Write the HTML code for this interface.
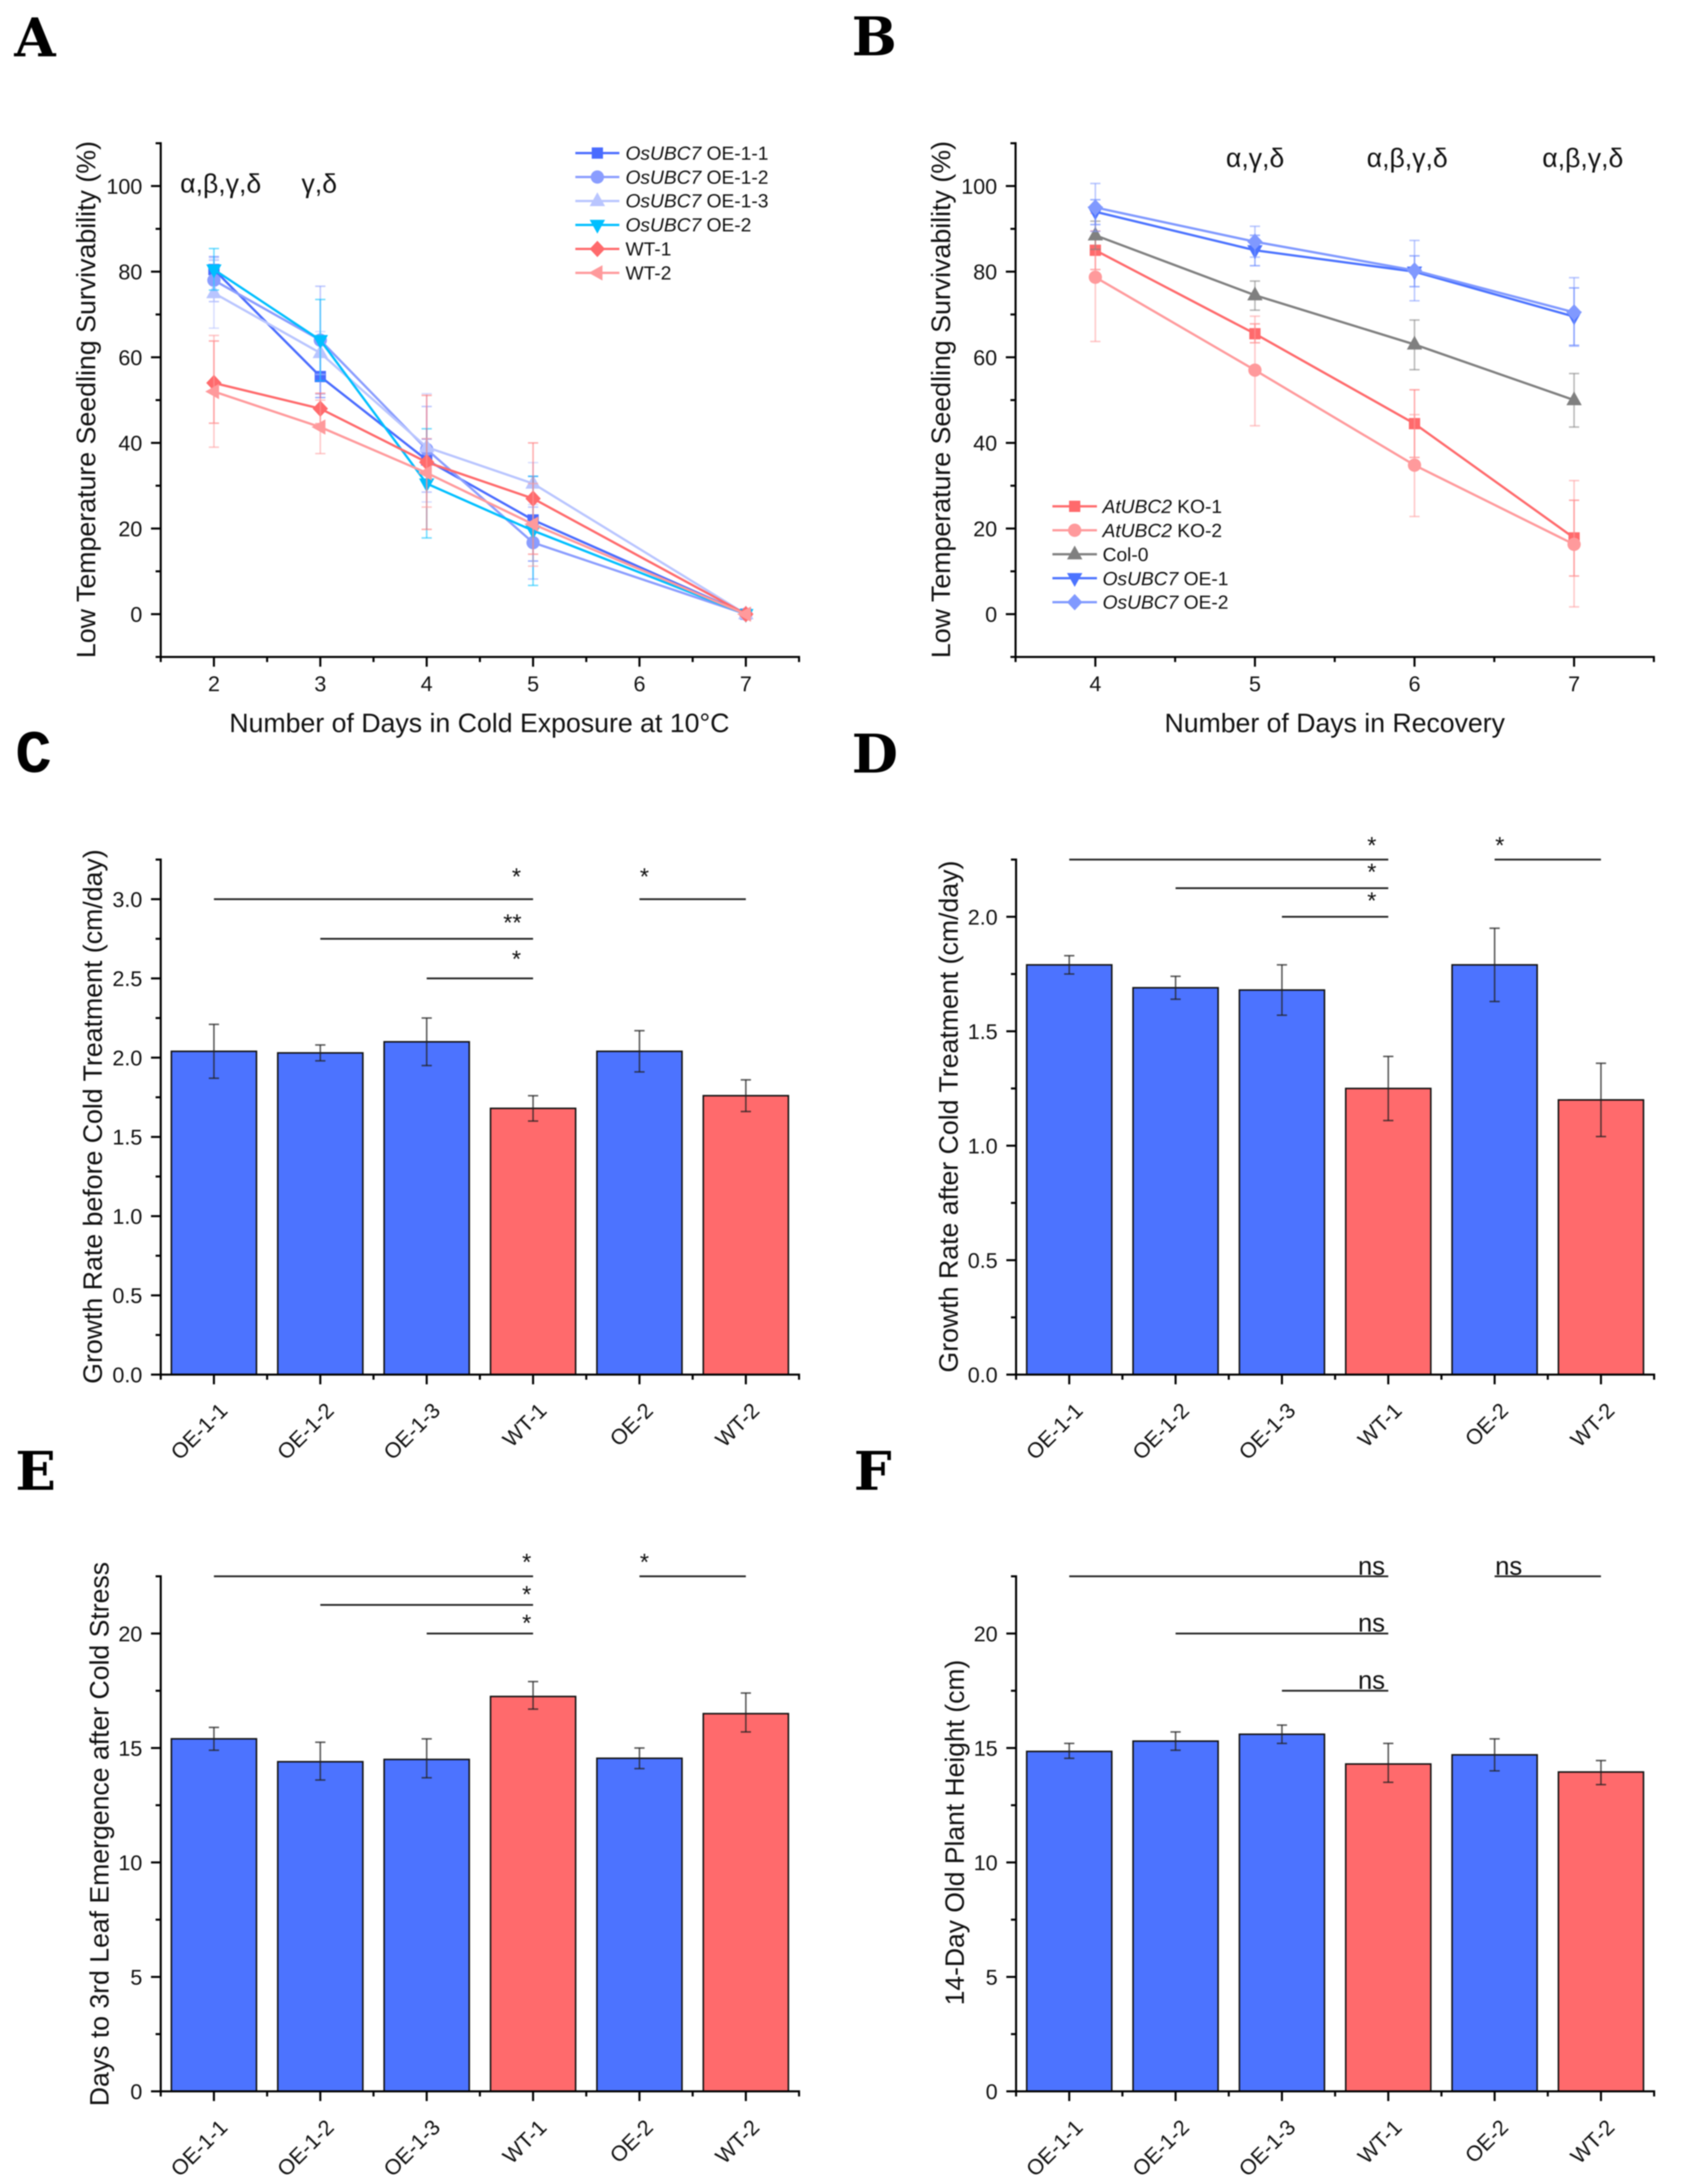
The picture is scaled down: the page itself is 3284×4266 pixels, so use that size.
<!DOCTYPE html>
<html lang="en">
<head>
<meta charset="utf-8">
<title>Low temperature survivability and growth panels</title>
<style>
html,body{margin:0;padding:0;background:#fff;}
svg{display:block;filter:blur(1px);}
text{font-family:"Liberation Sans",sans-serif;fill:#111;}
.letter{font-family:"DejaVu Serif",serif;font-weight:bold;font-size:104px;fill:#000;}
.title{font-size:52px;}
.legend{font-size:37.5px;}
.greek{font-size:52px;}
.star{font-size:46px;text-anchor:middle;}
.ns{font-size:50px;}
</style>
</head>
<body>
<svg id="figure" xmlns="http://www.w3.org/2000/svg" width="3284" height="4266" viewBox="0 0 3284 4266">
  <rect x="0" y="0" width="3284" height="4266" fill="#fff"/>

  <text class="letter" x="28" y="110">A</text>
  <text class="letter" x="1664" y="108">B</text>
  <text class="letter" x="30" y="1508" style="font-family:'Liberation Mono',monospace;font-size:118px;">C</text>
  <text class="letter" x="1664" y="1509">D</text>
  <text class="letter" x="30" y="2910">E</text>
  <text class="letter" x="1668" y="2910">F</text>

  <text class="title" transform="translate(186,1285.5) rotate(-90)" textLength="1010" lengthAdjust="spacingAndGlyphs">Low Temperature Seedling Survivability (%)</text>
  <text class="title" transform="translate(1856,1285.5) rotate(-90)" textLength="1010" lengthAdjust="spacingAndGlyphs">Low Temperature Seedling Survivability (%)</text>
  <text class="title" transform="translate(199,2703) rotate(-90)" textLength="1044" lengthAdjust="spacingAndGlyphs">Growth Rate before Cold Treatment (cm/day)</text>
  <text class="title" transform="translate(1871,2681) rotate(-90)" textLength="1000" lengthAdjust="spacingAndGlyphs">Growth Rate after Cold Treatment (cm/day)</text>
  <text class="title" transform="translate(212,4114) rotate(-90)" textLength="1063" lengthAdjust="spacingAndGlyphs">Days to 3rd Leaf Emergence after Cold Stress</text>
  <text class="title" transform="translate(1883,3917) rotate(-90)" textLength="675" lengthAdjust="spacingAndGlyphs">14-Day Old Plant Height (cm)</text>

  <text class="title" x="448" y="1430" textLength="977" lengthAdjust="spacingAndGlyphs">Number of Days in Cold Exposure at 10°C</text>
  <text class="title" x="2275" y="1430" textLength="665" lengthAdjust="spacingAndGlyphs">Number of Days in Recovery</text>

  <text class="greek" x="352" y="376">α,β,γ,δ</text>
  <text class="greek" x="589" y="376">γ,δ</text>
  <text class="greek" x="2395" y="326">α,γ,δ</text>
  <text class="greek" x="2670" y="326">α,β,γ,δ</text>
  <text class="greek" x="3013" y="326">α,β,γ,δ</text>

  <g>
    <text class="legend" x="1222" y="312"><tspan font-style="italic">OsUBC7</tspan> OE-1-1</text>
    <text class="legend" x="1222" y="359"><tspan font-style="italic">OsUBC7</tspan> OE-1-2</text>
    <text class="legend" x="1222" y="405"><tspan font-style="italic">OsUBC7</tspan> OE-1-3</text>
    <text class="legend" x="1222" y="452"><tspan font-style="italic">OsUBC7</tspan> OE-2</text>
    <text class="legend" x="1222" y="499">WT-1</text>
    <text class="legend" x="1222" y="546">WT-2</text>
  </g>
  <g>
    <text class="legend" x="2154" y="1002"><tspan font-style="italic">AtUBC2</tspan> KO-1</text>
    <text class="legend" x="2154" y="1049"><tspan font-style="italic">AtUBC2</tspan> KO-2</text>
    <text class="legend" x="2154" y="1096">Col-0</text>
    <text class="legend" x="2154" y="1143"><tspan font-style="italic">OsUBC7</tspan> OE-1</text>
    <text class="legend" x="2154" y="1189"><tspan font-style="italic">OsUBC7</tspan> OE-2</text>
  </g>

  <g>
    <text class="star" x="1009" y="1728">*</text>
    <text class="star" x="1001" y="1818">**</text>
    <text class="star" x="1009" y="1889">*</text>
    <text class="star" x="1259" y="1728">*</text>
  </g>
  <g>
    <text class="star" x="2680" y="1667">*</text>
    <text class="star" x="2680" y="1719">*</text>
    <text class="star" x="2680" y="1775">*</text>
    <text class="star" x="2930" y="1667">*</text>
  </g>
  <g>
    <text class="star" x="1029" y="3067">*</text>
    <text class="star" x="1029" y="3130">*</text>
    <text class="star" x="1029" y="3186">*</text>
    <text class="star" x="1259" y="3067">*</text>
  </g>
  <g>
    <text class="ns" x="2653" y="3076">ns</text>
    <text class="ns" x="2653" y="3187">ns</text>
    <text class="ns" x="2653" y="3299">ns</text>
    <text class="ns" x="2921" y="3076">ns</text>
  </g>
</svg>

<script>
/* ---------- Panel A data ---------- */
const daysA = [2, 3, 4, 5, 7];
const aTicksX = [2, 3, 4, 5, 6, 7];
const aMinorX = [1.5, 2.5, 3.5, 4.5, 5.5, 6.5, 7.5];
const lineTicksY = [0, 20, 40, 60, 80, 100];
const lineMinorY = [-10, 10, 30, 50, 70, 90, 110];

const aOE11Values = [80.5, 55.5, 36, 22, 0];
const aOE11Upper = [83.5, 60.5, 40.9, 32.2, 0];
const aOE11Lower = [77.5, 50.6, 31, 12.4, 0];
const aOE12Values = [78, 64, 38.5, 16.7, 0];
const aOE12Upper = [82.7, 76.6, 48.5, 25, 0];
const aOE12Lower = [73, 51.4, 28.5, 8.2, 0];
const aOE13Values = [75, 61, 39, 30.5, 0];
const aOE13Upper = [83.2, 66, 51.5, 35.4, 0];
const aOE13Lower = [66.8, 56, 26.2, 25.6, 0];
const aOE2Values = [80.5, 64, 30.5, 19.5, 0];
const aOE2Upper = [85.4, 73.5, 43.3, 32.2, 0];
const aOE2Lower = [75.7, 54.5, 17.8, 6.7, 0];
const aWT1Values = [54, 48, 35.5, 27, 0];
const aWT1Upper = [63.8, 51.6, 51.1, 40, 0];
const aWT1Lower = [44.6, 44.5, 19.8, 14, 0];
const aWT2Values = [52, 43.7, 33, 21, 0];
const aWT2Upper = [65.1, 50, 41, 30.5, 0];
const aWT2Lower = [39, 37.5, 25, 11.2, 0];

/* ---------- Panel B data ---------- */
const daysB = [4, 5, 6, 7];
const bTicksX = [4, 5, 6, 7];
const bMinorX = [3.5, 4.5, 5.5, 6.5, 7.5];

const bKO1Values = [85, 65.5, 44.5, 17.8];
const bKO1Upper = [89.5, 67.8, 52.4, 26.6];
const bKO1Lower = [80.5, 63.4, 36.6, 8.9];
const bKO2Values = [78.7, 57, 34.8, 16.3];
const bKO2Upper = [93.6, 69.6, 46.6, 31.2];
const bKO2Lower = [63.7, 44, 22.8, 1.7];
const bColValues = [88.5, 74.5, 63, 50];
const bColUpper = [91.8, 77.8, 68.7, 56.2];
const bColLower = [85.2, 71, 57.1, 43.7];
const bOE1Values = [94, 85, 80, 69.5];
const bOE1Upper = [96.8, 88.5, 83.7, 76.2];
const bOE1Lower = [91, 81.4, 76.5, 62.8];
const bOE2Values = [95, 87, 80.3, 70.5];
const bOE2Upper = [100.6, 90.6, 87.3, 78.6];
const bOE2Lower = [89.4, 83.4, 73.2, 62.6];

/* ---------- Bar panel data ---------- */
const barCategories = ["OE-1-1", "OE-1-2", "OE-1-3", "WT-1", "OE-2", "WT-2"];

const cValues = [2.04, 2.03, 2.10, 1.68, 2.04, 1.76];
const cUpper = [2.21, 2.08, 2.25, 1.76, 2.17, 1.86];
const cLower = [1.87, 1.98, 1.95, 1.60, 1.91, 1.66];
const cTicksY = [0, 0.5, 1, 1.5, 2, 2.5, 3];
const cMinorY = [0.25, 0.75, 1.25, 1.75, 2.25, 2.75, 3.25];
const cSigFrom = [0, 1, 2, 4];
const cSigTo = [3, 3, 3, 5];
const cSigLevel = [3.0, 2.75, 2.5, 3.0];

const dValues = [1.79, 1.69, 1.68, 1.25, 1.79, 1.20];
const dUpper = [1.83, 1.74, 1.79, 1.39, 1.95, 1.36];
const dLower = [1.75, 1.64, 1.57, 1.11, 1.63, 1.04];
const dTicksY = [0, 0.5, 1, 1.5, 2];
const dMinorY = [0.25, 0.75, 1.25, 1.75, 2.25];
const dSigFrom = [0, 1, 2, 4];
const dSigTo = [3, 3, 3, 5];
const dSigLevel = [2.25, 2.125, 2.0, 2.25];

const eValues = [15.4, 14.4, 14.5, 17.25, 14.55, 16.5];
const eUpper = [15.9, 15.25, 15.4, 17.9, 15.0, 17.4];
const eLower = [14.9, 13.6, 13.7, 16.7, 14.1, 15.7];
const eTicksY = [0, 5, 10, 15, 20];
const eMinorY = [2.5, 7.5, 12.5, 17.5, 22.5];
const eSigFrom = [0, 1, 2, 4];
const eSigTo = [3, 3, 3, 5];
const eSigLevel = [22.5, 21.25, 20, 22.5];

const fValues = [14.85, 15.3, 15.6, 14.3, 14.7, 13.95];
const fUpper = [15.2, 15.7, 16.0, 15.2, 15.4, 14.45];
const fLower = [14.55, 14.9, 15.2, 13.5, 14.0, 13.4];
const fTicksY = [0, 5, 10, 15, 20];
const fMinorY = [2.5, 7.5, 12.5, 17.5, 22.5];
const fSigFrom = [0, 1, 2, 4];
const fSigTo = [3, 3, 3, 5];
const fSigLevel = [22.5, 20, 17.5, 22.5];

/* ---------- Drawing helpers ---------- */
const SVGNS = "http://www.w3.org/2000/svg";
const root = document.getElementById("figure");

function make(tag, attrs, parent) {
  const el = document.createElementNS(SVGNS, tag);
  for (const k in attrs) el.setAttribute(k, attrs[k]);
  parent.appendChild(el);
  return el;
}
function linear(d0, d1, r0, r1) {
  return function (v) { return r0 + (v - d0) * (r1 - r0) / (d1 - d0); };
}
function drawLineSeg(parent, x1, y1, x2, y2, color, width, opacity) {
  return make("line", { x1: x1, y1: y1, x2: x2, y2: y2, stroke: color, "stroke-width": width, "stroke-opacity": opacity }, parent);
}
function drawMarker(parent, shape, cx, cy, color) {
  let el;
  if (shape === "square") {
    el = make("rect", { x: cx - 11, y: cy - 11, width: 22, height: 22, fill: color }, parent);
  } else if (shape === "circle") {
    el = make("circle", { cx: cx, cy: cy, r: 13, fill: color }, parent);
  } else {
    let pts;
    if (shape === "up") pts = [[cx, cy - 17], [cx + 15, cy + 10], [cx - 15, cy + 10]];
    if (shape === "down") pts = [[cx - 15, cy - 10], [cx + 15, cy - 10], [cx, cy + 17]];
    if (shape === "left") pts = [[cx - 17, cy], [cx + 10, cy - 15], [cx + 10, cy + 15]];
    if (shape === "diamond") pts = [[cx, cy - 16], [cx + 15, cy], [cx, cy + 16], [cx - 15, cy]];
    el = make("polygon", { points: pts.map(function (p) { return p.join(","); }).join(" "), fill: color }, parent);
  }
  
  
  return el;
}
function drawErrorBar(parent, x, yTopPx, yLowPx, color, width, opacity, capHalf) {
  const g = make("g", {}, parent);
  
  
  drawLineSeg(g, x, yTopPx, x, yLowPx, color, width, opacity);
  drawLineSeg(g, x - capHalf, yTopPx, x + capHalf, yTopPx, color, width, opacity);
  drawLineSeg(g, x - capHalf, yLowPx, x + capHalf, yLowPx, color, width, opacity);
}
function drawAxes(panel, xs, ys, majorX, minorX, majorY, minorY, yFmt, xLabels) {
  const g = make("g", {}, root);
  
  

  const yAxis = drawLineSeg(g, panel.left, panel.top - 2, panel.left, panel.bottom + 2, "#000", 4, 1);
  
  
  const xAxis = drawLineSeg(g, panel.left - 2, panel.bottom, panel.right + 2, panel.bottom, "#000", 4, 1);
  
  

  majorY.forEach(function (v) {
    const t = drawLineSeg(g, panel.left - 19, ys(v), panel.left, ys(v), "#000", 4, 1);
    
    
    const label = make("text", { x: panel.left - 36, y: ys(v) + 15, "text-anchor": "end", "font-size": 42 }, g);
    label.textContent = yFmt(v);
    
    
  });
  minorY.forEach(function (v) {
    const t = drawLineSeg(g, panel.left - 10, ys(v), panel.left, ys(v), "#000", 4, 1);
    
    
  });
  majorX.forEach(function (v, i) {
    const t = drawLineSeg(g, xs(v), panel.bottom, xs(v), panel.bottom + 19, "#000", 4, 1);
    
    
    let label;
    if (xLabels) {
      const ax = xs(v) + 29;
      const ay = panel.bottom + 73;
      label = make("text", { x: ax, y: ay, "text-anchor": "end", "font-size": 42, transform: "rotate(-45 " + ax + " " + ay + ")" }, g);
      label.textContent = xLabels[i];
    } else {
      label = make("text", { x: xs(v), y: panel.bottom + 67, "text-anchor": "middle", "font-size": 42 }, g);
      label.textContent = String(v);
    }
    
    
  });
  minorX.forEach(function (v) {
    const t = drawLineSeg(g, xs(v), panel.bottom, xs(v), panel.bottom + 10, "#000", 4, 1);
    
    
  });
}
function drawLinePanel(panel, days, series, majorX, minorX) {
  const xs = linear(panel.xMin, panel.xMax, panel.left, panel.right);
  const ys = linear(panel.yMin, panel.yMax, panel.bottom, panel.top);
  drawAxes(panel, xs, ys, majorX, minorX, lineTicksY, lineMinorY, function (v) { return String(v); }, null);

  series.forEach(function (s) {
    const g = make("g", {}, root);
    
    
    const pts = days.map(function (d, i) { return xs(d) + "," + ys(s.values[i]); }).join(" ");
    const line = make("polyline", { points: pts, fill: "none", stroke: s.color, "stroke-width": 4.5 }, g);
    
    
    days.forEach(function (d, i) {
      drawMarker(g, s.shape, xs(d), ys(s.values[i]), s.color);
    });
    days.forEach(function (d, i) {
      if (s.upper[i] !== s.lower[i]) {
        drawErrorBar(g, xs(d), ys(s.upper[i]), ys(s.lower[i]), s.color, 3, 0.55, 10);
      }
    });
  });

  series.forEach(function (s, i) {
    const ly = panel.legendTop + i * panel.legendGap;
    const g = make("g", {}, root);
    
    
    drawLineSeg(g, panel.legendX1, ly, panel.legendX2, ly, s.color, 4.5, 1);
    drawMarker(g, s.shape, (panel.legendX1 + panel.legendX2) / 2, ly, s.color);
  });
}
function drawBarPanel(panel, values, upper, lower, majorY, minorY, yFmt, sigFrom, sigTo, sigLevel) {
  const xs = linear(0.5, barCategories.length + 0.5, panel.left, panel.right);
  const ys = linear(0, panel.yMax, panel.bottom, panel.top);
  const bandwidth = (panel.right - panel.left) / barCategories.length;
  const barWidth = bandwidth * 0.8;
  const positions = barCategories.map(function (c, i) { return i + 1; });
  const minorPositions = [0.5].concat(positions.map(function (p) { return p + 0.5; }));

  const barsGroup = make("g", {}, root);
  
  
  barCategories.forEach(function (cat, i) {
    const isWT = cat.indexOf("WT") === 0;
    const bar = make("rect", {
      x: xs(i + 1) - barWidth / 2, y: ys(values[i]), width: barWidth, height: panel.bottom - ys(values[i]),
      fill: isWT ? "#ff6a6c" : "#4c73ff", stroke: "#111", "stroke-width": 3
    }, barsGroup);
    
    
  });
  barCategories.forEach(function (cat, i) {
    drawErrorBar(barsGroup, xs(i + 1), ys(upper[i]), ys(lower[i]), "#222", 3, 0.75, 10);
  });

  drawAxes(panel, xs, ys, positions, minorPositions, majorY, minorY, yFmt, barCategories);

  sigFrom.forEach(function (from, i) {
    const sig = drawLineSeg(root, xs(from + 1), ys(sigLevel[i]), xs(sigTo[i] + 1), ys(sigLevel[i]), "#222", 3.5, 1);
    
    
  });
}

/* ---------- Series wiring ---------- */
const seriesA = [
  { name: "oe-1-1", values: aOE11Values, upper: aOE11Upper, lower: aOE11Lower, color: "#4a6cff", shape: "square" },
  { name: "oe-1-2", values: aOE12Values, upper: aOE12Upper, lower: aOE12Lower, color: "#8a9dff", shape: "circle" },
  { name: "oe-1-3", values: aOE13Values, upper: aOE13Upper, lower: aOE13Lower, color: "#b9c5ff", shape: "up" },
  { name: "oe-2", values: aOE2Values, upper: aOE2Upper, lower: aOE2Lower, color: "#00bfff", shape: "down" },
  { name: "wt-1", values: aWT1Values, upper: aWT1Upper, lower: aWT1Lower, color: "#ff6a6c", shape: "diamond" },
  { name: "wt-2", values: aWT2Values, upper: aWT2Upper, lower: aWT2Lower, color: "#ff9a9c", shape: "left" }
];
const seriesB = [
  { name: "ko-1", values: bKO1Values, upper: bKO1Upper, lower: bKO1Lower, color: "#ff6a6c", shape: "square" },
  { name: "ko-2", values: bKO2Values, upper: bKO2Upper, lower: bKO2Lower, color: "#ff9a9c", shape: "circle" },
  { name: "col-0", values: bColValues, upper: bColUpper, lower: bColLower, color: "#808080", shape: "up" },
  { name: "oe-1", values: bOE1Values, upper: bOE1Upper, lower: bOE1Lower, color: "#4c73ff", shape: "down" },
  { name: "oe-2", values: bOE2Values, upper: bOE2Upper, lower: bOE2Lower, color: "#8099ff", shape: "diamond" }
];

drawLinePanel({
  name: "panel-a", left: 314, right: 1561, top: 279.8, bottom: 1283.2,
  xMin: 1.5, xMax: 7.5, yMin: -10, yMax: 110,
  legendTop: 299, legendGap: 46.8, legendX1: 1124, legendX2: 1210
}, daysA, seriesA, aTicksX, aMinorX);

drawLinePanel({
  name: "panel-b", left: 1984, right: 3231, top: 279.8, bottom: 1283.2,
  xMin: 3.5, xMax: 7.5, yMin: -10, yMax: 110,
  legendTop: 989, legendGap: 46.8, legendX1: 2056, legendX2: 2143
}, daysB, seriesB, bTicksX, bMinorX);

function oneDecimal(v) { return v.toFixed(1); }
function plain(v) { return String(v); }

drawBarPanel({ name: "panel-c", left: 314, right: 1561, top: 1679, bottom: 2685, yMax: 3.25 },
  cValues, cUpper, cLower, cTicksY, cMinorY, oneDecimal, cSigFrom, cSigTo, cSigLevel);
drawBarPanel({ name: "panel-d", left: 1985, right: 3231.5, top: 1679, bottom: 2685, yMax: 2.25 },
  dValues, dUpper, dLower, dTicksY, dMinorY, oneDecimal, dSigFrom, dSigTo, dSigLevel);
drawBarPanel({ name: "panel-e", left: 314, right: 1561, top: 3079, bottom: 4085, yMax: 22.5 },
  eValues, eUpper, eLower, eTicksY, eMinorY, plain, eSigFrom, eSigTo, eSigLevel);
drawBarPanel({ name: "panel-f", left: 1985, right: 3231.5, top: 3079, bottom: 4085, yMax: 22.5 },
  fValues, fUpper, fLower, fTicksY, fMinorY, plain, fSigFrom, fSigTo, fSigLevel);
</script>
</body>
</html>
